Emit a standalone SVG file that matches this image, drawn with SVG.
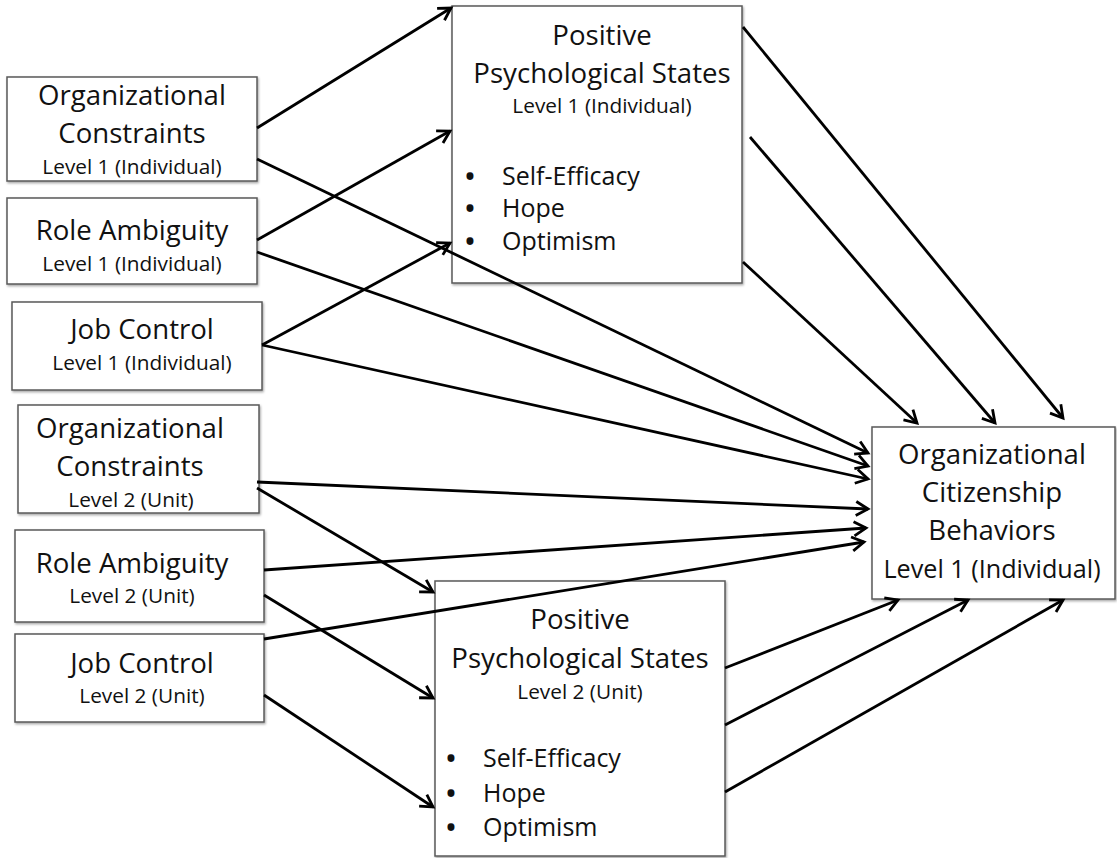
<svg xmlns="http://www.w3.org/2000/svg" width="1117" height="858" viewBox="0 0 1117 858">
<defs>
<marker id="arr" markerUnits="userSpaceOnUse" markerWidth="20" markerHeight="20" viewBox="-16 -10 20 20" refX="0" refY="0" orient="auto">
<path d="M-12,-7 L0,0 L-12,7" fill="none" stroke="#000" stroke-width="2.8" stroke-linejoin="miter"/>
</marker>
<filter id="sh" x="-5%" y="-5%" width="110%" height="110%">
<feDropShadow dx="1" dy="1.5" stdDeviation="1" flood-color="#000" flood-opacity="0.35"/>
</filter>
</defs>
<style>
.box{fill:#fff;stroke:#5a5a5a;stroke-width:1.5;filter:url(#sh)}
.t{font-family:"Open Sans","Liberation Sans",sans-serif;font-size:27.6px;fill:#111;text-anchor:middle}
.s{font-family:"Open Sans","Liberation Sans",sans-serif;font-size:20.8px;fill:#111;text-anchor:middle}
.b{font-family:"Open Sans","Liberation Sans",sans-serif;font-size:25px;fill:#111}
.bu{font-family:"Open Sans","Liberation Sans",sans-serif;font-size:25px;font-weight:700;fill:#111;text-anchor:middle}
.c line{stroke:#000;stroke-width:2.8;marker-end:url(#arr)}
</style>
<rect width="1117" height="858" fill="#fff"/>
<g id="oc1">
<rect class="box" x="7" y="77" width="250" height="104"/>
<text class="t" x="132" y="105">Organizational</text>
<text class="t" x="132" y="143">Constraints</text>
<text class="s" x="132" y="174">Level 1 (Individual)</text>
</g>
<g id="ra1">
<rect class="box" x="7" y="198" width="250" height="86"/>
<text class="t" x="132" y="240">Role Ambiguity</text>
<text class="s" x="132" y="271">Level 1 (Individual)</text>
</g>
<g id="jc1">
<rect class="box" x="12" y="302" width="250" height="88"/>
<text class="t" x="142" y="339">Job Control</text>
<text class="s" x="142" y="370">Level 1 (Individual)</text>
</g>
<g id="oc2">
<rect class="box" x="18" y="405" width="241" height="108"/>
<text class="t" x="130" y="438">Organizational</text>
<text class="t" x="130" y="476">Constraints</text>
<text class="s" x="131" y="507">Level 2 (Unit)</text>
</g>
<g id="ra2">
<rect class="box" x="15" y="530" width="249" height="92"/>
<text class="t" x="132" y="573">Role Ambiguity</text>
<text class="s" x="132" y="603">Level 2 (Unit)</text>
</g>
<g id="jc2">
<rect class="box" x="15" y="634" width="249" height="88"/>
<text class="t" x="142" y="673">Job Control</text>
<text class="s" x="142" y="703">Level 2 (Unit)</text>
</g>
<g id="pps1">
<rect class="box" x="452" y="6" width="290" height="277"/>
<text class="t" x="602" y="45">Positive</text>
<text class="t" x="602" y="83">Psychological States</text>
<text class="s" x="602" y="113">Level 1 (Individual)</text>
<text class="bu" x="470" y="185">•</text>
<text class="b" x="502" y="185">Self-Efficacy</text>
<text class="bu" x="470" y="217">•</text>
<text class="b" x="502" y="217">Hope</text>
<text class="bu" x="470" y="250">•</text>
<text class="b" x="502" y="250">Optimism</text>
</g>
<g id="pps2">
<rect class="box" x="435" y="581" width="290" height="275"/>
<text class="t" x="580" y="629">Positive</text>
<text class="t" x="580" y="668">Psychological States</text>
<text class="s" x="580" y="699">Level 2 (Unit)</text>
<text class="bu" x="451" y="767">•</text>
<text class="b" x="483" y="767">Self-Efficacy</text>
<text class="bu" x="451" y="802">•</text>
<text class="b" x="483" y="802">Hope</text>
<text class="bu" x="451" y="836">•</text>
<text class="b" x="483" y="836">Optimism</text>
</g>
<g id="ocb">
<rect class="box" x="872" y="427" width="243" height="172"/>
<text class="t" x="992" y="464">Organizational</text>
<text class="t" x="992" y="502">Citizenship</text>
<text class="t" x="992" y="540">Behaviors</text>
<text class="t" x="992" y="578" style="font-size:25.2px">Level 1 (Individual)</text>
</g>
<g id="connectors" class="c">
<line x1="257" y1="128" x2="451" y2="8"/>
<line x1="257" y1="159" x2="868" y2="453"/>
<line x1="257" y1="240" x2="450" y2="131"/>
<line x1="257" y1="252" x2="868" y2="466"/>
<line x1="262" y1="345" x2="450" y2="243"/>
<line x1="262" y1="345" x2="868" y2="479"/>
<line x1="257" y1="482" x2="868" y2="509"/>
<line x1="257" y1="488" x2="433" y2="592"/>
<line x1="264" y1="570" x2="866" y2="528"/>
<line x1="264" y1="595" x2="433" y2="698"/>
<line x1="264" y1="639" x2="864" y2="542"/>
<line x1="264" y1="695" x2="433" y2="807"/>
<line x1="743" y1="27" x2="1063" y2="418"/>
<line x1="750" y1="137" x2="995" y2="423"/>
<line x1="743" y1="262" x2="917" y2="423"/>
<line x1="725" y1="668" x2="898" y2="600"/>
<line x1="725" y1="725" x2="968" y2="600"/>
<line x1="725" y1="792" x2="1063" y2="600"/>
</g>
</svg>
